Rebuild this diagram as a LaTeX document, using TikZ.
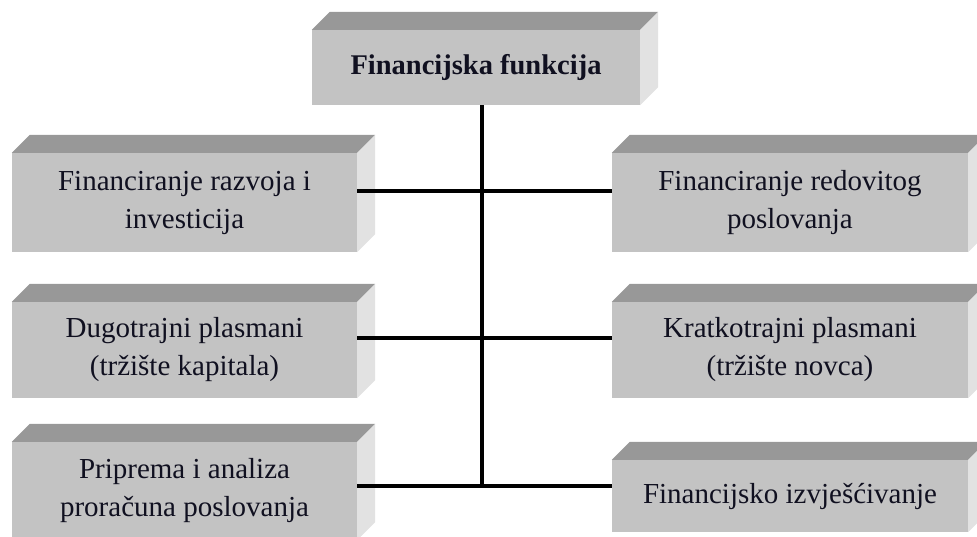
\documentclass[tikz,border=0pt]{standalone}
\usepackage{fontspec}
\setmainfont{Liberation Serif}
\definecolor{frontc}{HTML}{C3C3C3}
\definecolor{topc}{HTML}{989898}
\definecolor{sidec}{HTML}{E2E2E2}
\definecolor{txtc}{HTML}{101020}
\begin{document}
\begin{tikzpicture}[x=1pt,y=-1pt,
  boxface/.style={fill=frontc, draw=none, inner sep=0pt, align=center, text=txtc,
    font=\fontsize{29}{38}\selectfont},
  link/.style={line width=3.5pt, black}]
\useasboundingbox (0,0) rectangle (977,537);
\node[boxface, minimum width=328pt, minimum height=75pt, font=\fontsize{28.5}{36}\selectfont\bfseries] (top) at (476,67.5) {Financijska funkcija};
\node[boxface, minimum width=345pt, minimum height=99pt] (L1) at (184.5,202.5) {Financiranje razvoja i\\investicija};
\node[boxface, minimum width=345pt, minimum height=96pt] (L2) at (184.5,350) {Dugotrajni plasmani\\(tržište kapitala)};
\node[boxface, minimum width=345pt, minimum height=98pt] (L3) at (184.5,491) {Priprema i analiza\\proračuna poslovanja};
\node[boxface, minimum width=356pt, minimum height=99pt] (R1) at (790,202.5) {Financiranje redovitog\\poslovanja};
\node[boxface, minimum width=356pt, minimum height=96pt] (R2) at (790,350) {Kratkotrajni plasmani\\(tržište novca)};
\node[boxface, minimum width=356pt, minimum height=72pt] (R3) at (790,496) {Financijsko izvješćivanje};
\foreach \n in {top,L1,L2,L3,R1,R2,R3} {
  \fill[topc] (\n.north west) -- ++(18,-18) -- ([shift={(18,-18)}]\n.north east) -- (\n.north east) -- cycle;
  \fill[sidec] (\n.north east) -- ++(18,-18) -- ([shift={(18,-18)}]\n.south east) -- (\n.south east) -- cycle;
}
\coordinate (j1) at (482,191);
\coordinate (j2) at (482,338);
\coordinate (j3) at (482,486);
\draw[link] (top.south -| j3) -- (j3);
\draw[link] (L1.east |- j1) -- (R1.west |- j1);
\draw[link] (L2.east |- j2) -- (R2.west |- j2);
\draw[link] (L3.east |- j3) -- (R3.west |- j3);
\end{tikzpicture}
\end{document}
